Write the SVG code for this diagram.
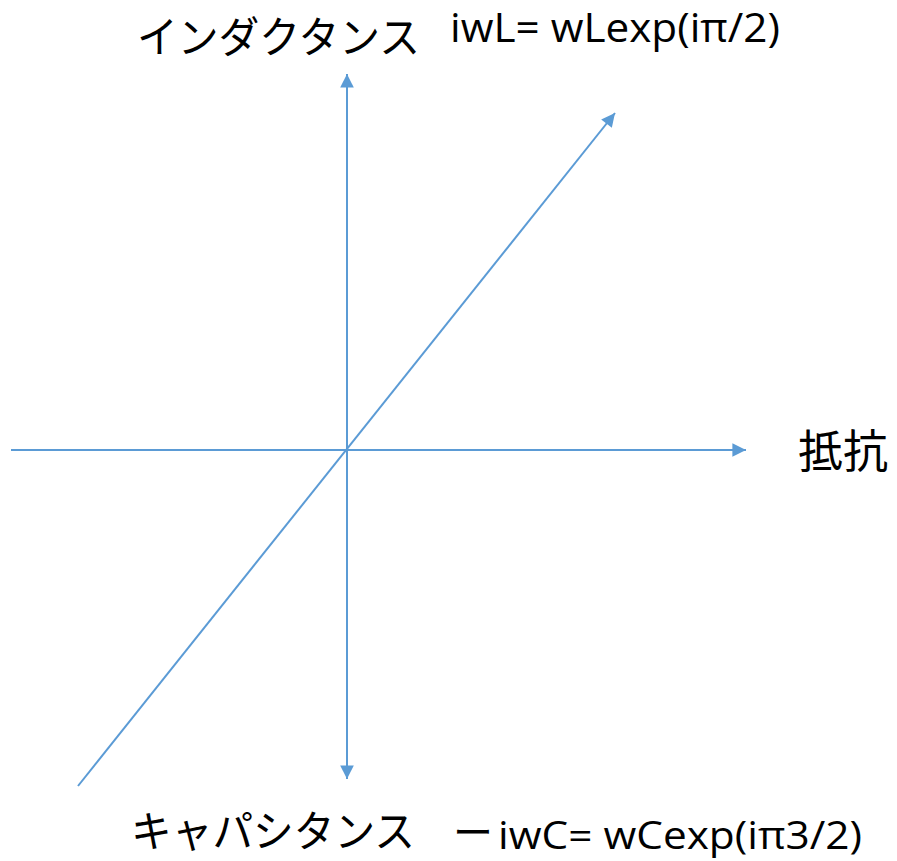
<svg xmlns="http://www.w3.org/2000/svg" width="897" height="861" viewBox="0 0 897 861">
<style>
.ax{stroke:#5B9BD5;stroke-width:2;fill:none}
.jp{font-family:"Noto Sans CJK JP","Noto Sans CJK SC",sans-serif;font-size:43px;fill:#000}
.fm{font-family:"Open Sans","Liberation Sans",sans-serif;font-size:40px;fill:#000}
</style>
<defs>
<marker id="ah" viewBox="0 0 10 10" refX="10" refY="5" markerWidth="8" markerHeight="8" markerUnits="userSpaceOnUse" orient="auto" style="overflow:visible">
<path d="M0,0 L10,5 L0,10 z" fill="#5B9BD5" transform="scale(1.7)" transform-origin="10 5"/>
</marker>
</defs>
<rect width="897" height="861" fill="#fff"/>
<g id="connectors">
<line class="ax" x1="347" y1="779" x2="347" y2="74" marker-end="url(#ah)"/>
<line class="ax" x1="347" y1="90" x2="347" y2="779" marker-end="url(#ah)"/>
<line class="ax" x1="11" y1="450" x2="746" y2="450" marker-end="url(#ah)"/>
<line class="ax" x1="78" y1="786" x2="615" y2="113" marker-end="url(#ah)"/>
</g>
<g id="inductance">
<text class="jp" x="137" y="53" textLength="283" lengthAdjust="spacingAndGlyphs">インダクタンス</text>
<text class="fm" x="450" y="42" textLength="330" lengthAdjust="spacingAndGlyphs">iwL= wLexp(iπ/2)</text>
</g>
<g id="capacitance">
<text class="jp" x="131" y="847" textLength="284" lengthAdjust="spacingAndGlyphs">キャパシタンス</text>
<text class="jp" x="453" y="847" style="font-size:40px">ー</text>
<text class="fm" x="498" y="849" style="font-size:38px" textLength="364" lengthAdjust="spacingAndGlyphs">iwC= wCexp(iπ3/2)</text>
</g>
<g id="resistance">
<text class="jp" x="798" y="468" style="font-size:45px">抵抗</text>
</g>
</svg>
